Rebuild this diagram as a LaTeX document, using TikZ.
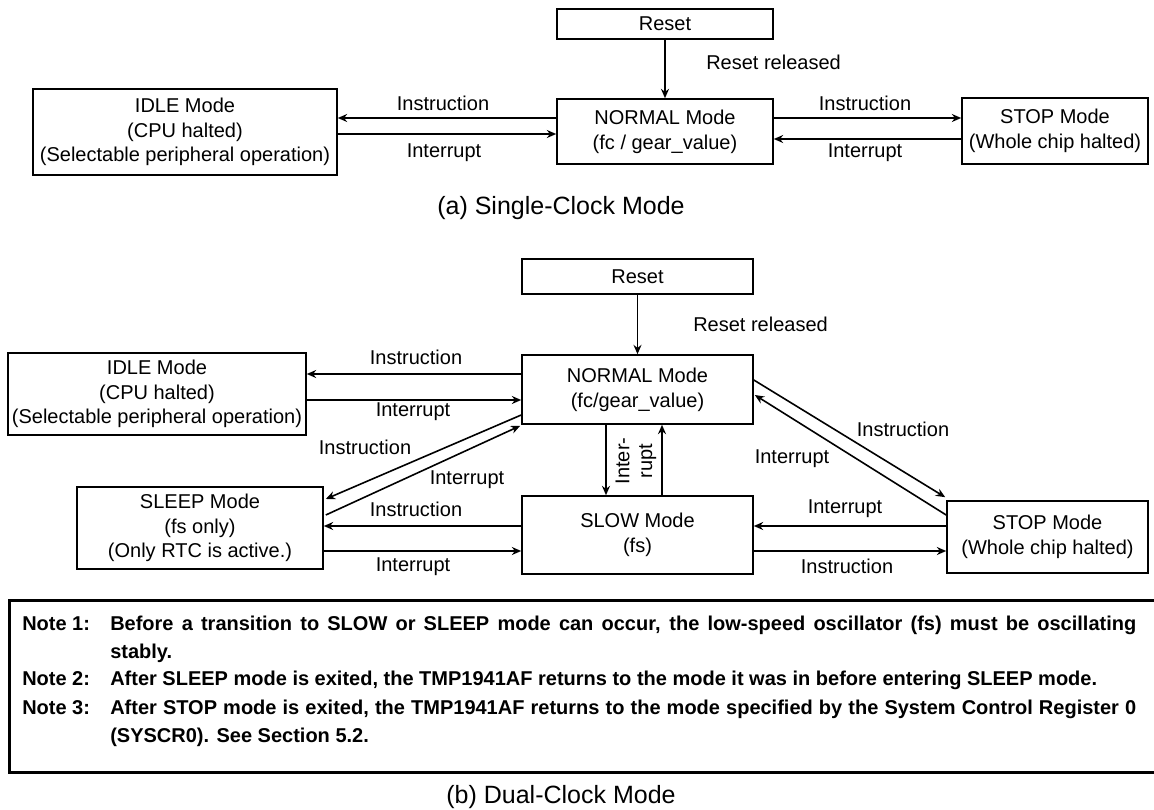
\documentclass[tikz,border=0pt]{standalone}
\usepackage{fontspec}
\setmainfont{Liberation Sans}
\usetikzlibrary{calc,arrows.meta}
\newlength\pxu
\setlength\pxu{0.75pt}

\begin{document}
\begin{tikzpicture}[x=\pxu, y=-\pxu,
    every node/.style={font=\fontsize{15}{18.5}\selectfont},
    mode/.style={draw, line width=1.2pt, align=center, inner sep=0pt},
    lbl/.style={inner sep=0pt},
    caption/.style={inner sep=0pt, font=\fontsize{18.75}{22}\selectfont},
    conn/.style={line width=1.2pt, -{Stealth[length=7pt,width=6pt]}},
    notelbl/.style={inner sep=0pt, anchor=base west, font=\fontsize{15}{21}\selectfont\bfseries},
    notetext/.style={notelbl, text width=1026\pxu, align=justify}]
    % page
    \path[use as bounding box, fill=white] (0,0) rectangle (1154,810);
    % (a) single-clock boxes
    \node[mode, minimum width=216\pxu, minimum height=30\pxu] (resetA) at (665,24) {Reset};
    \node[mode, minimum width=216\pxu, minimum height=65\pxu] (normalA) at (665,131.5) {NORMAL Mode\\(fc / gear\_value)};
    \node[mode, minimum width=304\pxu, minimum height=86\pxu] (idleA) at (185,132) {IDLE Mode\\(CPU halted)\\(Selectable peripheral operation)};
    \node[mode, minimum width=186\pxu, minimum height=66\pxu] (stopA) at (1055,131) {STOP Mode\\(Whole chip halted)};
    % (a) transitions
    \draw[conn] (resetA) -- (normalA);
    \draw[conn] ($(normalA.west)+(0,-13.5)$) -- ($(idleA.east)+(0,-14)$);
    \draw[conn] ($(idleA.east)+(0,2)$) -- ($(normalA.west)+(0,2.5)$);
    \draw[conn] ($(normalA.east)+(0,-13.5)$) -- ($(stopA.west)+(0,-13)$);
    \draw[conn] ($(stopA.west)+(0,8)$) -- ($(normalA.east)+(0,7.5)$);
    % (a) labels
    \node[lbl, anchor=west] (aRel) at (706,62) {Reset released};
    \node[lbl] (aIdleIn) at (443,103) {Instruction};
    \node[lbl] (aIdleOut) at (444,153) {Interrupt};
    \node[lbl] (aStopIn) at (865,103) {Instruction};
    \node[lbl] (aStopOut) at (865,153) {Interrupt};
    \node[caption] (capA) at (561,208) {(a) Single-Clock Mode};
    % (b) dual-clock boxes
    \node[mode, minimum width=231\pxu, minimum height=35\pxu] (resetB) at (637.5,276.5) {Reset};
    \node[mode, minimum width=231\pxu, minimum height=69\pxu] (normalB) at (637.5,389.5) {NORMAL Mode\\(fc/gear\_value)};
    \node[mode, minimum width=298\pxu, minimum height=82\pxu] (idleB) at (157,394) {IDLE Mode\\(CPU halted)\\(Selectable peripheral operation)};
    \node[mode, minimum width=246\pxu, minimum height=82\pxu] (sleepB) at (200,528) {SLEEP Mode\\(fs only)\\(Only RTC is active.)};
    \node[mode, minimum width=231\pxu, minimum height=78\pxu] (slowB) at (637.5,535) {SLOW Mode\\(fs)};
    \node[mode, minimum width=201\pxu, minimum height=72\pxu] (stopB) at (1047.5,537) {STOP Mode\\(Whole chip halted)};
    % (b) transitions
    \draw[conn] (resetB) -- (normalB);
    \draw[conn] ($(normalB.west)+(0,-15.5)$) -- ($(idleB.east)+(0,-20)$);
    \draw[conn] ($(idleB.east)+(0,6)$) -- ($(normalB.west)+(0,10.5)$);
    \draw[conn] ($(normalB.west)+(0,25.5)$) -- ($(sleepB.east)+(2,-29)$);
    \draw[conn] ($(sleepB.east)+(2,-13)$) -- ($(normalB.south west)+(-1,1)$);
    \draw[conn] ($(slowB.west)+(0,-9)$) -- ($(sleepB.east)+(0,-2)$);
    \draw[conn] ($(sleepB.east)+(0,23)$) -- ($(slowB.west)+(0,16)$);
    \draw[conn] ($(normalB.south)+(-31.5,0)$) -- ($(slowB.north)+(-31.5,0)$);
    \draw[conn] ($(slowB.north)+(24.5,0)$) -- ($(normalB.south)+(24.5,0)$);
    \draw[conn] ($(normalB.east)+(0,-9.5)$) -- ($(stopB.north west)+(-1,-3)$);
    \draw[conn] ($(stopB.west)+(0,-22)$) -- ($(normalB.east)+(1,5.5)$);
    \draw[conn] ($(stopB.west)+(0,-11)$) -- ($(slowB.east)+(0,-9)$);
    \draw[conn] ($(slowB.east)+(0,16)$) -- ($(stopB.west)+(0,14)$);
    % (b) labels
    \node[lbl, anchor=west] (bRel) at (693,324) {Reset released};
    \node[lbl] (bIdleIn) at (416,357) {Instruction};
    \node[lbl] (bIdleOut) at (413,412) {Interrupt};
    \node[lbl] (bSleepIn) at (365,447) {Instruction};
    \node[lbl] (bSleepOut) at (467,480) {Interrupt};
    \node[lbl] (bSlowSleepIn) at (416,509) {Instruction};
    \node[lbl] (bSlowSleepOut) at (413,567) {Interrupt};
    \node[lbl, rotate=90, align=center, font=\fontsize{15}{17}\selectfont] (bSlowOut) at (636,461) {Inter-\\rupt};
    \node[lbl] (bStopIn) at (903,429) {Instruction};
    \node[lbl] (bStopOut) at (792,459) {Interrupt};
    \node[lbl] (bSlowStopOut) at (845,509) {Interrupt};
    \node[lbl] (bSlowStopIn) at (847,566) {Instruction};
    % notes
    \draw[line width=2.25pt] (9,600) rectangle (1175,772);
    \node[notelbl] (note1) at (22,630) {Note 1:};
    \node[notetext] (note1txt) at (110,630) {Before a transition to SLOW or SLEEP mode can occur, the low-speed oscillator (fs) must be oscillating\linebreak stably.};
    \node[notelbl] (note2) at (22,685) {Note 2:};
    \node[notetext] (note2txt) at (110,685) {After SLEEP mode is exited, the TMP1941AF returns to the mode it was in before entering SLEEP mode.};
    \node[notelbl] (note3) at (22,714) {Note 3:};
    \node[notetext] (note3txt) at (110,714) {After STOP mode is exited, the TMP1941AF returns to the mode specified by the System Control Register 0 (SYSCR0). See Section 5.2.};
    \node[caption] (capB) at (561,797) {(b) Dual-Clock Mode};
\end{tikzpicture}
\end{document}
